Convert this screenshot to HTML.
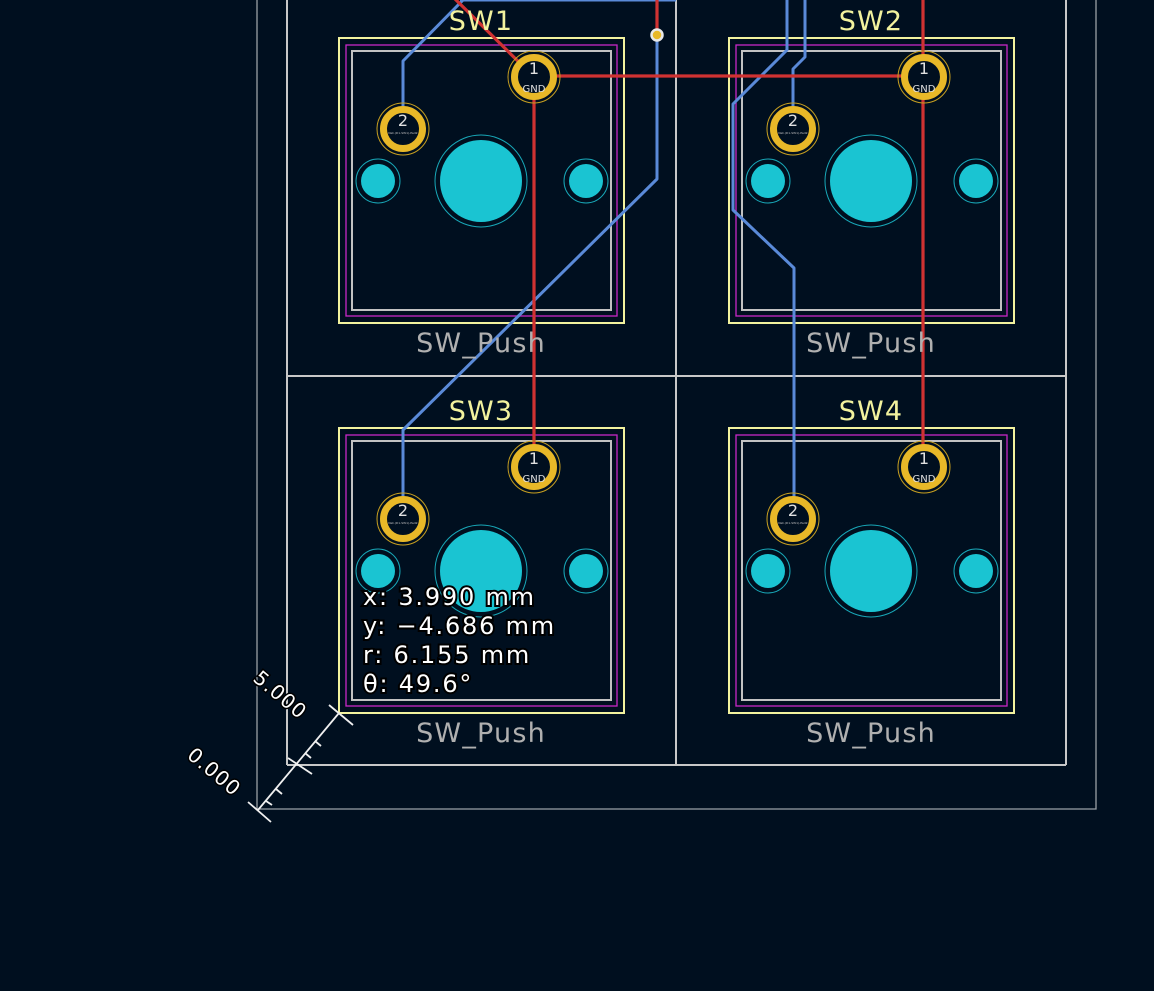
<!DOCTYPE html>
<html><head><style>
html,body{margin:0;padding:0;background:#000f1f;width:1154px;height:991px;overflow:hidden}
svg{display:block}
.t{font-family:"DejaVu Sans","Liberation Sans",sans-serif}
</style></head><body>
<svg width="1154" height="991" viewBox="0 0 1154 991" xmlns="http://www.w3.org/2000/svg">
<defs>
<g id="fp">
  <rect x="339" y="38" width="285" height="285" fill="none" stroke="#f2f29e" stroke-width="2"/>
  <rect x="346" y="45" width="271" height="271" fill="none" stroke="#c828c8" stroke-width="1.3"/>
  <rect x="352" y="51" width="259" height="259" fill="none" stroke="#c2c2c2" stroke-width="2"/>
  <circle cx="481" cy="181" r="46" fill="#000f1f" stroke="#18a8b8" stroke-width="1"/>
  <circle cx="481" cy="181" r="41" fill="#1ac4d2"/>
  <circle cx="378" cy="181" r="22" fill="#000f1f" stroke="#18a8b8" stroke-width="1"/>
  <circle cx="378" cy="181" r="17" fill="#1ac4d2"/>
  <circle cx="586" cy="181" r="22" fill="#000f1f" stroke="#18a8b8" stroke-width="1"/>
  <circle cx="586" cy="181" r="17" fill="#1ac4d2"/>
</g>
<g id="pads">
  <circle cx="534" cy="77" r="26" fill="none" stroke="#c8a020" stroke-width="1"/>
  <circle cx="534" cy="77" r="19.5" fill="#000f1f" stroke="#e8b828" stroke-width="7"/>
  <text x="534" y="74" class="t" font-size="16" fill="#e0e0e0" text-anchor="middle">1</text>
  <text x="534" y="92" class="t" font-size="10" fill="#e0e0e0" text-anchor="middle">GND</text>
  <circle cx="403" cy="129" r="26" fill="none" stroke="#c8a020" stroke-width="1"/>
  <circle cx="403" cy="129" r="19.5" fill="#000f1f" stroke="#e8b828" stroke-width="7"/>
  <text x="403" y="126" class="t" font-size="16" fill="#e0e0e0" text-anchor="middle">2</text>
  <text x="403" y="134" class="t" font-size="3" fill="#c0c0c0" text-anchor="middle">Net-(D1-SW1)-Pad2</text>
</g>
</defs>

<polyline points="257,0 257,809 1096,809 1096,0" fill="none" stroke="#9aa0a6" stroke-width="1.3"/>
<g stroke="#c8c8c8" stroke-width="2" fill="none">
  <line x1="287" y1="0" x2="287" y2="765"/>
  <line x1="676" y1="0" x2="676" y2="765"/>
  <line x1="1066" y1="0" x2="1066" y2="765"/>
  <line x1="287" y1="376" x2="1066" y2="376"/>
  <line x1="287" y1="765" x2="1066" y2="765"/>
</g>

<use href="#fp"/>
<use href="#fp" transform="translate(390,0)"/>
<use href="#fp" transform="translate(0,390)"/>
<use href="#fp" transform="translate(390,390)"/>

<g stroke="#5a8ad8" stroke-width="3" fill="none" stroke-linejoin="round">
  <line x1="460" y1="0" x2="676" y2="0"/>
  <polyline points="403,129 403,61 465,-2"/>
  <polyline points="657,35 657,179 403,430 403,519"/>
  <polyline points="787,0 787,50 733,104 733,210 794,268 794,519"/>
  <polyline points="805,0 805,57 793,69 793,129"/>
</g>
<g stroke="#d03232" stroke-width="3.2" fill="none">
  <polyline points="452,-4 534,77"/>
  <line x1="534" y1="76" x2="923" y2="76"/>
  <line x1="534" y1="77" x2="534" y2="467"/>
  <line x1="923" y1="0" x2="923" y2="467"/>
  <line x1="657" y1="0" x2="657" y2="35"/>
</g>
<circle cx="657" cy="35" r="5.5" fill="#e8b828" stroke="#e8e8e8" stroke-width="2.5"/>

<use href="#pads"/>
<use href="#pads" transform="translate(390,0)"/>
<use href="#pads" transform="translate(0,390)"/>
<use href="#pads" transform="translate(390,390)"/>

<g class="t" font-size="27" text-anchor="middle" letter-spacing="1.2">
  <text x="481" y="30" fill="#f2f29e">SW1</text>
  <text x="871" y="30" fill="#f2f29e">SW2</text>
  <text x="481" y="420" fill="#f2f29e">SW3</text>
  <text x="871" y="420" fill="#f2f29e">SW4</text>
  <text x="481" y="352" fill="#b0b0b0">SW_Push</text>
  <text x="871" y="352" fill="#b0b0b0">SW_Push</text>
  <text x="481" y="742" fill="#b0b0b0">SW_Push</text>
  <text x="871" y="742" fill="#b0b0b0">SW_Push</text>
</g>

<g stroke="#f0f0f0" stroke-width="1.8" fill="none">
  <line x1="258" y1="810" x2="339" y2="713"/>
  <line x1="248" y1="802" x2="271" y2="822"/>
  <line x1="288" y1="758" x2="312" y2="774"/>
  <line x1="329" y1="705" x2="353" y2="725"/>
  <line x1="266" y1="801" x2="272" y2="805"/>
  <line x1="276" y1="789" x2="282" y2="794"/>
  <line x1="305" y1="753" x2="311" y2="758"/>
  <line x1="315" y1="741" x2="321" y2="746"/>
</g>
<g class="t" font-size="20" fill="#ffffff" stroke="#000" stroke-width="3" paint-order="stroke" letter-spacing="1">
  <text transform="translate(186,757) rotate(40)">0.000</text>
  <text transform="translate(252,680) rotate(40)">5.000</text>
</g>
<g class="t" font-size="24" fill="#ffffff" stroke="#000" stroke-width="4" paint-order="stroke" letter-spacing="1.8">
  <text x="363" y="605">x: 3.990 mm</text>
  <text x="363" y="634">y: −4.686 mm</text>
  <text x="363" y="663">r: 6.155 mm</text>
  <text x="363" y="692">θ: 49.6°</text>
</g>
</svg>
</body></html>
